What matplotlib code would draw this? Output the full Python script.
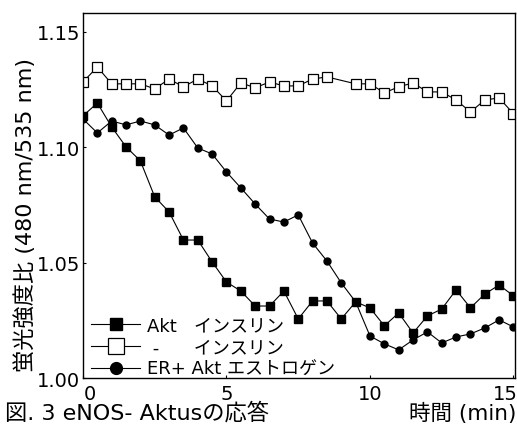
import matplotlib
matplotlib.use("Agg")
import matplotlib.pyplot as plt
import matplotlib.transforms as mtransforms

plt.rcParams['font.family'] = ['DejaVu Sans', 'Noto Sans CJK JP']

# sampling times (min)
t_all = [0.0, 0.5, 1.0, 1.5, 2.0, 2.5, 3.0, 3.5, 4.0, 4.5, 5.0, 5.5, 6.0, 6.5, 7.0, 7.5,
         8.0, 8.5, 9.0, 9.5, 10.0, 10.5, 11.0, 11.5, 12.0, 12.5, 13.0, 13.5, 14.0, 14.5, 15.0]
# open-square series has no point at 9.0 min
t_open = [t for t in t_all if t != 9.0]

akt_insulin = [1.1136, 1.1192, 1.1088, 1.1002, 1.0941, 1.0785, 1.0720, 1.0598, 1.0598, 1.0503,
               1.0416, 1.0377, 1.0312, 1.0312, 1.0377, 1.0256, 1.0334, 1.0334, 1.0256, 1.0330,
               1.0304, 1.0226, 1.0282, 1.0195, 1.0269, 1.0299, 1.0382, 1.0304, 1.0364, 1.0403,
               1.0356]
ctrl_insulin = [1.1283, 1.1348, 1.1275, 1.1275, 1.1275, 1.1253, 1.1296, 1.1262, 1.1296, 1.1266,
                1.1201, 1.1279, 1.1258, 1.1283, 1.1266, 1.1266, 1.1296, 1.1305, 1.1275,
                1.1275, 1.1236, 1.1262, 1.1279, 1.1240, 1.1240, 1.1205, 1.1153, 1.1205, 1.1214,
                1.1145]
er_akt_estrogen = [1.1123, 1.1062, 1.1114, 1.1097, 1.1114, 1.1097, 1.1053, 1.1084, 1.0997, 1.0971,
                   1.0893, 1.0824, 1.0754, 1.0689, 1.0676, 1.0707, 1.0585, 1.0507, 1.0412, 1.0330,
                   1.0182, 1.0148, 1.0122, 1.0165, 1.0200, 1.0152, 1.0178, 1.0191, 1.0217, 1.0252,
                   1.0221]

labels = ["Akt   インスリン", " -      インスリン", "ER+ Akt エストロゲン"]
xticks = [0, 5, 10, 15]
yticks = [1.00, 1.05, 1.10, 1.15]

fig = plt.figure(figsize=(5.17, 4.27), dpi=100)
ax = fig.add_axes([0.1605, 0.1124, 0.8355, 0.8548])

ax.plot(t_all, akt_insulin, color='black', lw=0.8, marker='s', ms=5.5,
        mfc='black', mec='black', label=labels[0])
ax.plot(t_open, ctrl_insulin, color='black', lw=0.8, marker='s', ms=6.5,
        mfc='white', mec='black', mew=0.9, label=labels[1])
ax.plot(t_all, er_akt_estrogen, color='black', lw=0.8, marker='o', ms=5,
        mfc='black', mec='black', label=labels[2])

ax.set_xlim(0, 15.05)
ax.set_ylim(1.0, 1.1582)
ax.set_xticks(xticks)
ax.set_yticks(yticks)
ax.set_yticklabels([f"{v:.2f}" for v in yticks])
ax.tick_params(axis='both', direction='in', length=2, labelsize=14, pad=2)
ax.tick_params(axis='x', pad=4)
for s in ax.spines.values():
    s.set_linewidth(1.0)

# nudge the end tick labels inward, like the scanned original
xlabs = ax.get_xticklabels()
xlabs[0].set_transform(xlabs[0].get_transform() + mtransforms.ScaledTranslation(7 / 100, 0, fig.dpi_scale_trans))
xlabs[-1].set_transform(xlabs[-1].get_transform() + mtransforms.ScaledTranslation(-8 / 100, 0, fig.dpi_scale_trans))

leg = ax.legend(loc='lower left', bbox_to_anchor=(0.015, -0.005), frameon=False,
                fontsize=13, handlelength=2.7, handletextpad=0.4, labelspacing=0.2,
                borderpad=0.1, borderaxespad=0, markerscale=1.7)

fig.text(25 / 517, 1 - 215 / 427, "蛍光強度比 (480 nm/535 nm)", rotation=90,
         ha='center', va='center', fontsize=16)
fig.text(5 / 517, 1 - 413 / 427, "図. 3 eNOS- Aktusの応答", ha='left', va='center', fontsize=16)
fig.text(516 / 517, 1 - 413 / 427, "時間 (min)", ha='right', va='center', fontsize=15.5)

fig.savefig("out.png", dpi=100)
